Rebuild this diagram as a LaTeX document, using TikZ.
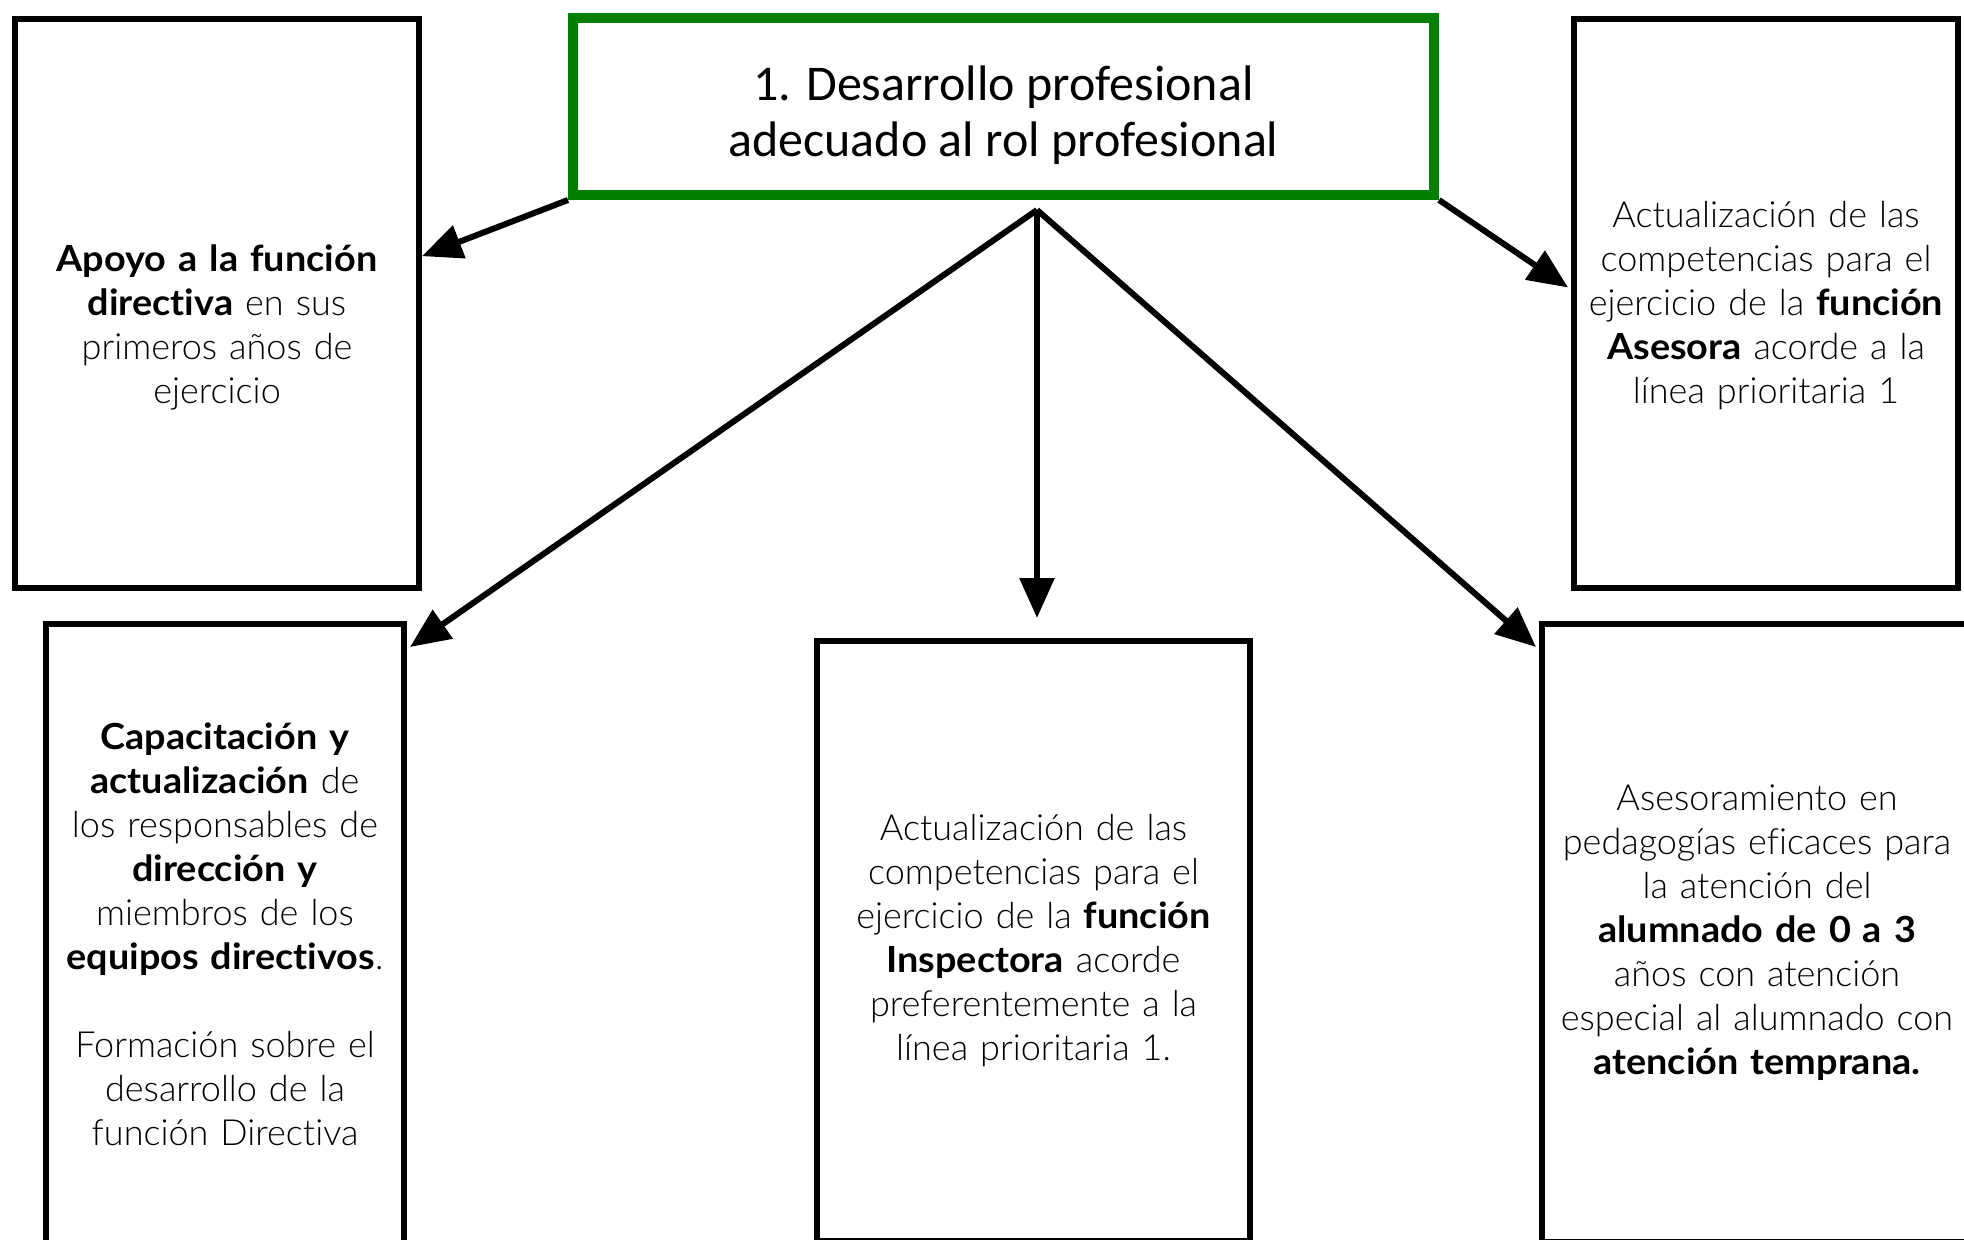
\documentclass[tikz,border=0pt]{standalone}
\usepackage{fontspec}
\setmainfont{Lato}[UprightFont=* Light, BoldFont=* Bold, BoldFeatures={FakeStretch=1.05}, Ligatures={NoCommon}]
\newfontfamily\titlefont{Carlito}
\usetikzlibrary{arrows.meta,calc}
\definecolor{verde}{RGB}{0,128,0}
\tikzset{
  caja/.style={draw, line width=3pt, align=center, inner sep=0pt, text width=#1,
    font=\fontsize{18}{22}\selectfont},
  titulo/.style={draw=verde, line width=5pt, align=center, inner sep=0pt,
    font=\titlefont\fontsize{25}{28}\selectfont},
  flecha/.style={line width=3pt, -{Triangle[length=20pt,width=17pt]}}
}
\begin{document}
\begin{tikzpicture}[x=0.5pt,y=-0.5pt]
        \useasboundingbox (0,0) rectangle (1964,1240);
        \clip (0,0) rectangle (1964,1240);
        \node[titulo, minimum width=430.5pt, minimum height=88.5pt] (objetivo) at (1003.5,106.5)
            {\rule{0pt}{26pt}1. Desarrollo profesional\\adecuado al rol profesional};
        \node[caja=196pt, minimum width=202pt, minimum height=284.5pt] (directiva) at (217,303.5)
            {\rule{0pt}{37pt}\textbf{Apoyo a la función}\\\textbf{directiva} en sus\\primeros años de\\ejercicio};
        \node[caja=188pt, minimum width=192pt, minimum height=284.5pt] (asesora) at (1766,303.5)
            {\rule{0pt}{15pt}Actualización de las\\competencias para el\\ejercicio de la \textbf{función}\\\textbf{Asesora} acorde a la\\línea prioritaria 1};
        \node[caja=176pt, minimum width=179pt, minimum height=310pt] (formacion) at (225,934)
            {\textbf{Capacitación y}\\\textbf{actualización} de\\los responsables de\\\textbf{dirección y}\\miembros de los\\\textbf{equipos directivos}.\\[22pt]Formación sobre el\\desarrollo de la\\función Directiva};
        \node[caja=210pt, minimum width=216.5pt, minimum height=300pt] (inspeccion) at (1033.5,941)
            {Actualización de las\\competencias para el\\ejercicio de la \textbf{función}\\\textbf{Inspectora} acorde\\preferentemente a la\\línea prioritaria 1.};
        \node[caja=210pt, minimum width=215pt, minimum height=309pt] (temprana) at (1757,933)
            {Asesoramiento en\\pedagogías eficaces para\\la atención del\\\textbf{alumnado de 0 a 3}\\años con atención\\especial al alumnado con\\\textbf{atención temprana.}};

        \coordinate (nudo) at ($(objetivo.south)+(33.5,10)$);
        \draw[flecha] (objetivo.south west) -- (directiva.13);
        \draw[flecha] (nudo) -- ($(formacion.north east)+(3,26)$);
        \draw[flecha] (nudo) -- ($(nudo |- inspeccion.north)+(0,-20)$);
        \draw[flecha] (nudo) -- ($(temprana.north west)+(-3,26)$);
        \draw[flecha] (objetivo.south east) -- ($(asesora.west)+(-3,-16)$);
    \end{tikzpicture}
\end{document}
